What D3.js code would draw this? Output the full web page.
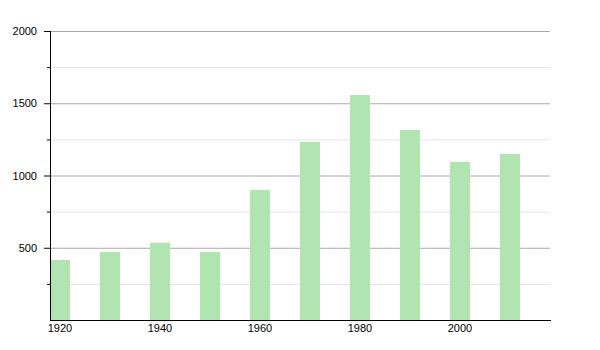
<!DOCTYPE html>
<html>
<head>
<script src="https://cdn.jsdelivr.net/npm/d3@7"></script>
<meta charset="utf-8">
<style>
  body { margin: 0; background: #fff; }
  text { font-family: "Liberation Sans", Arial, sans-serif; font-size: 11px; fill: #000; }
</style>
</head>
<body>
<script>
var years = [1920, 1930, 1940, 1950, 1960, 1970, 1980, 1990, 2000, 2010];
var population = [415, 470, 535, 470, 900, 1232, 1557, 1315, 1095, 1149];
var yMajor = [500, 1000, 1500, 2000];
var yMinor = [250, 750, 1250, 1750];
var xTicks = [1920, 1940, 1960, 1980, 2000];

var width = 600, height = 350;
var svg = d3.select("body").append("svg").attr("width", width).attr("height", height);

var x = d3.scaleLinear().domain([1918, 2018]).range([50, 550]);
var y = d3.scaleLinear().domain([0, 2000]).range([320, 31]);

var defs = svg.append("defs");
defs.append("filter").attr("id", "soft")
  .append("feGaussianBlur").attr("stdDeviation", "0.6");

// gridlines
svg.selectAll("line.minor").data(yMinor).enter().append("line")
  .attr("x1", 50).attr("x2", 550)
  .attr("y1", d => y(d) + 0.5).attr("y2", d => y(d) + 0.5)
  .style("stroke", "#e4e4e4");
svg.selectAll("line.major").data(yMajor).enter().append("line")
  .attr("x1", 50).attr("x2", 550)
  .attr("y1", d => y(d) + 0.5).attr("y2", d => y(d) + 0.5)
  .style("stroke", "#a8a8a8");

// bars
svg.selectAll("rect.bar").data(years).enter().append("rect")
  .attr("class", "bar")
  .attr("x", d => x(d) - 10)
  .attr("width", 20)
  .attr("y", (d, i) => y(population[i]))
  .attr("height", (d, i) => 320 - y(population[i]))
  .style("fill", "#b0e4b0")
  .attr("filter", "url(#soft)");

// y axis
svg.append("line").attr("x1", 50.5).attr("x2", 50.5).attr("y1", 31).attr("y2", 321)
  .style("stroke", "#000");
svg.selectAll("line.ytick").data(yMajor).enter().append("line")
  .attr("x1", 44).attr("x2", 50)
  .attr("y1", d => y(d) + 0.5).attr("y2", d => y(d) + 0.5)
  .style("stroke", "#000");
svg.selectAll("line.ytickm").data(yMinor).enter().append("line")
  .attr("x1", 47).attr("x2", 50)
  .attr("y1", d => y(d) + 0.5).attr("y2", d => y(d) + 0.5)
  .style("stroke", "#000");
svg.selectAll("text.ylab").data(yMajor).enter().append("text")
  .attr("x", 37).attr("y", d => y(d) + 4)
  .attr("text-anchor", "end")
  .text(d => d);

// x axis
svg.append("line").attr("x1", 50).attr("x2", 551).attr("y1", 320.5).attr("y2", 320.5)
  .style("stroke", "#000");
svg.selectAll("text.xlab").data(xTicks).enter().append("text")
  .attr("x", d => x(d)).attr("y", 332)
  .attr("text-anchor", "middle")
  .text(d => d);
</script>
</body>
</html>
